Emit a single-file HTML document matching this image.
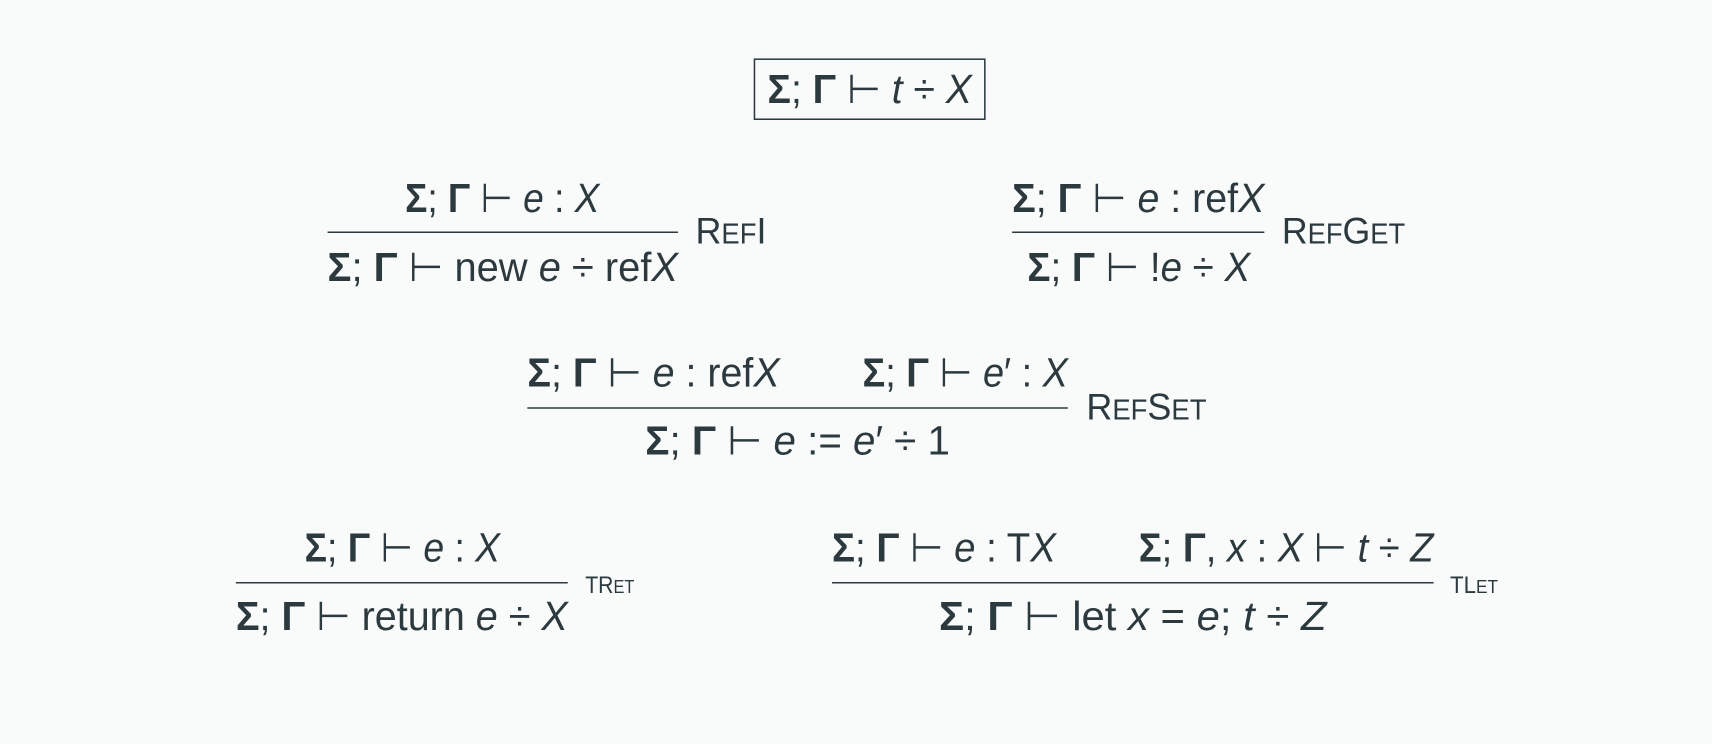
<!DOCTYPE html>
<html><head><meta charset="utf-8"><style>
html,body{margin:0;padding:0;background:#f9fafa;}
svg{display:block}
text{font-family:"Liberation Sans","DejaVu Sans",sans-serif;fill:#2c3a3f;}
.i{font-style:italic}
.b{font-weight:bold}
</style></head><body>
<svg width="1712" height="744" viewBox="0 0 1568 681" xmlns="http://www.w3.org/2000/svg">
<rect x="0" y="0" width="1568" height="681" fill="#f9fafa"/>
<g stroke="#2c3a3f" stroke-width="1.4" fill="none">
<rect x="691" y="54" width="211" height="55"/>
<line x1="300" y1="212.5" x2="621" y2="212.5"/>
<line x1="927" y1="212.5" x2="1158" y2="212.5"/>
<line x1="483" y1="373.5" x2="978" y2="373.5"/>
<line x1="216" y1="533.5" x2="520" y2="533.5"/>
<line x1="762" y1="533.5" x2="1313" y2="533.5"/>
</g>
<g font-size="37">
<text x="703" y="94" textLength="187" lengthAdjust="spacingAndGlyphs"><tspan class="b">Σ</tspan>; <tspan class="b">Γ</tspan> ⊢ <tspan class="i">t</tspan> ÷ <tspan class="i">X</tspan></text>

<text x="371" y="194" textLength="178" lengthAdjust="spacingAndGlyphs"><tspan class="b">Σ</tspan>; <tspan class="b">Γ</tspan> ⊢ <tspan class="i">e</tspan> : <tspan class="i">X</tspan></text>
<text x="300" y="257" textLength="321" lengthAdjust="spacingAndGlyphs"><tspan class="b">Σ</tspan>; <tspan class="b">Γ</tspan> ⊢ new <tspan class="i">e</tspan> ÷ ref<tspan class="i">X</tspan></text>

<text x="927" y="194" textLength="231" lengthAdjust="spacingAndGlyphs"><tspan class="b">Σ</tspan>; <tspan class="b">Γ</tspan> ⊢ <tspan class="i">e</tspan> : ref<tspan class="i">X</tspan></text>
<text x="941" y="257" textLength="204" lengthAdjust="spacingAndGlyphs"><tspan class="b">Σ</tspan>; <tspan class="b">Γ</tspan> ⊢ !<tspan class="i">e</tspan> ÷ <tspan class="i">X</tspan></text>

<text x="483" y="354" textLength="231" lengthAdjust="spacingAndGlyphs"><tspan class="b">Σ</tspan>; <tspan class="b">Γ</tspan> ⊢ <tspan class="i">e</tspan> : ref<tspan class="i">X</tspan></text>
<text x="790" y="354" textLength="188" lengthAdjust="spacingAndGlyphs"><tspan class="b">Σ</tspan>; <tspan class="b">Γ</tspan> ⊢ <tspan class="i">e</tspan>′ : <tspan class="i">X</tspan></text>
<text x="591" y="416" textLength="279" lengthAdjust="spacingAndGlyphs"><tspan class="b">Σ</tspan>; <tspan class="b">Γ</tspan> ⊢ <tspan class="i">e</tspan> := <tspan class="i">e</tspan>′ ÷ 1</text>

<text x="279" y="514" textLength="179" lengthAdjust="spacingAndGlyphs"><tspan class="b">Σ</tspan>; <tspan class="b">Γ</tspan> ⊢ <tspan class="i">e</tspan> : <tspan class="i">X</tspan></text>
<text x="216" y="577" textLength="304" lengthAdjust="spacingAndGlyphs"><tspan class="b">Σ</tspan>; <tspan class="b">Γ</tspan> ⊢ return <tspan class="i">e</tspan> ÷ <tspan class="i">X</tspan></text>

<text x="762" y="514" textLength="205" lengthAdjust="spacingAndGlyphs"><tspan class="b">Σ</tspan>; <tspan class="b">Γ</tspan> ⊢ <tspan class="i">e</tspan> : T<tspan class="i">X</tspan></text>
<text x="1043" y="514" textLength="270" lengthAdjust="spacingAndGlyphs"><tspan class="b">Σ</tspan>; <tspan class="b">Γ</tspan>, <tspan class="i">x</tspan> : <tspan class="i">X</tspan> ⊢ <tspan class="i">t</tspan> ÷ <tspan class="i">Z</tspan></text>
<text x="860" y="577" textLength="355" lengthAdjust="spacingAndGlyphs"><tspan class="b">Σ</tspan>; <tspan class="b">Γ</tspan> ⊢ let <tspan class="i">x</tspan> = <tspan class="i">e</tspan>;  <tspan class="i">t</tspan> ÷ <tspan class="i">Z</tspan></text>
</g>
<g>
<text x="637" y="223" font-size="34" textLength="65" lengthAdjust="spacingAndGlyphs">R<tspan font-size="26">EF</tspan>I</text>
<text x="1174" y="223" font-size="34" textLength="113" lengthAdjust="spacingAndGlyphs">R<tspan font-size="26">EF</tspan>G<tspan font-size="26">ET</tspan></text>
<text x="995" y="384" font-size="34" textLength="110" lengthAdjust="spacingAndGlyphs">R<tspan font-size="26">EF</tspan>S<tspan font-size="26">ET</tspan></text>
<text x="536" y="543" font-size="22" textLength="45" lengthAdjust="spacingAndGlyphs">TR<tspan font-size="17">ET</tspan></text>
<text x="1328" y="543" font-size="22" textLength="44" lengthAdjust="spacingAndGlyphs">TL<tspan font-size="17">ET</tspan></text>
</g>
</svg>
</body></html>
